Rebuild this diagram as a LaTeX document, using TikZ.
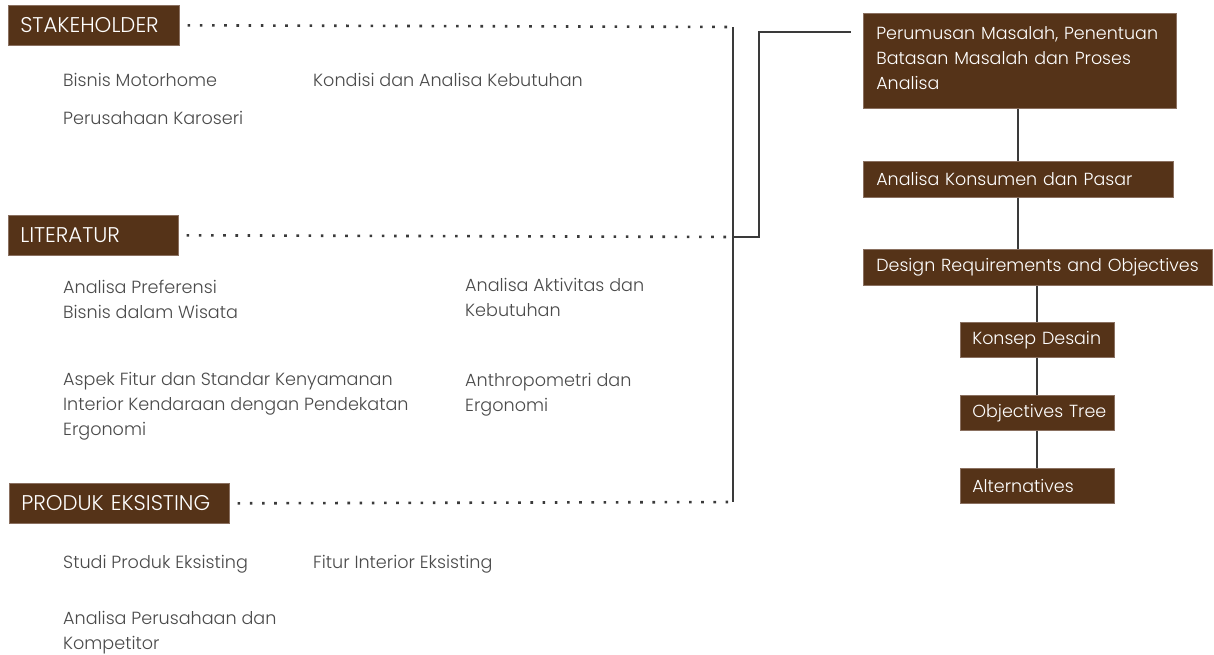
\documentclass[tikz,border=0pt]{standalone}
\usepackage{fontspec}
\setmainfont{Poppins Light}
\usetikzlibrary{calc}
\definecolor{boxbg}{HTML}{553318}
\definecolor{boxbrd}{HTML}{8A7060}
\definecolor{txt}{HTML}{4A4A4A}
\definecolor{ln}{HTML}{3A3A3A}
\tikzset{
  box/.style={draw=boxbrd, line width=0.6pt, fill=boxbg, text=white, anchor=north west,
    inner xsep=13pt, inner ysep=0pt, align=left, font=\fontsize{17.5}{25}\selectfont},
  capbox/.style={box, inner xsep=12pt, font=\fontsize{21.3}{25}\selectfont},
  smallbox/.style={box, inner xsep=12pt, minimum width=154pt, minimum height=35pt, text width=130pt},
  lbl/.style={anchor=north west, inner sep=0pt, text=txt, align=left,
    font=\fontsize{17.6}{25}\selectfont},
  dots/.style={ln, line width=2.6pt, dash pattern=on 2.6pt off 9.6pt},
  solid/.style={ln, line width=1.8pt},
}
\begin{document}
\begin{tikzpicture}[x=1pt,y=-1pt]
\useasboundingbox (0,0) rectangle (1214,654);
% left boxes
\node[capbox, minimum width=171pt, text width=147pt, minimum height=40pt] (stake) at (8,5) {\mbox{STAKEHOLDER}};
\node[capbox, minimum width=170pt, text width=146pt, minimum height=40pt] (lit) at (8,215) {\mbox{LITERATUR}};
\node[capbox, minimum width=220pt, text width=196pt, minimum height=40pt] (prod) at (9,483) {\mbox{PRODUK EKSISTING}};
% texts
\node[lbl] (t1) at (63,73) {Bisnis Motorhome};
\node[lbl] (t2) at (63,111) {Perusahaan Karoseri};
\node[lbl] (t3) at (313,73) {Kondisi dan Analisa Kebutuhan};
\node[lbl] (t4) at (63,280) {Analisa Preferensi\\Bisnis dalam Wisata};
\node[lbl] (t5) at (465,278) {Analisa Aktivitas dan\\Kebutuhan};
\node[lbl] (t6) at (63,372) {Aspek Fitur dan Standar Kenyamanan\\Interior Kendaraan dengan Pendekatan\\Ergonomi};
\node[lbl] (t7) at (465,373) {Anthropometri dan\\Ergonomi};
\node[lbl] (t8) at (63,555) {Studi Produk Eksisting};
\node[lbl] (t9) at (313,555) {Fitur Interior Eksisting};
\node[lbl] (t10) at (63,611) {Analisa Perusahaan dan\\Kompetitor};
% right column
\node[box, minimum width=313pt, minimum height=95pt, text width=287pt, text depth=56pt] (top) at (863,13) {Perumusan Masalah, Penentuan\\Batasan Masalah dan Proses\\Analisa};
\node[box, minimum width=310pt, minimum height=36pt, text width=284pt] (kons) at (863,161) {Analisa Konsumen dan Pasar};
\node[box, minimum width=349pt, minimum height=36pt, text width=323pt] (dro) at (863,249) {\mbox{Design Requirements and Objectives}};
\node[smallbox] (kd) at (960,322) {\mbox{Konsep Desain}};
\node[smallbox] (ot) at (960,395) {\mbox{Objectives Tree}};
\node[smallbox] (alt) at (960,468) {\mbox{Alternatives}};
% coordinates
\coordinate (vtop) at (733,27);
\coordinate (vlit) at (733,237);
\coordinate (vbot) at (733,502);
\coordinate (jlow) at (759,237);
\coordinate (jup) at (759,32);
\coordinate (jend) at (851,32);
% dotted lines
\draw[dots] ($(stake.east)+(8,0)$) -- (vtop);
\draw[dots] ($(lit.east)+(8,0)$) -- (vlit);
\draw[dots] ($(prod.east)+(8,0)$) -- (vbot);
% solid lines
\draw[solid] (vtop) -- (vbot);
\draw[solid] (vlit) -- (jlow) -- (jup) -- (jend);
\draw[solid] (top.south -| 1018,0) -- (kons.north -| 1018,0);
\draw[solid] (kons.south -| 1018,0) -- (dro.north -| 1018,0);
\draw[solid] (dro.south -| kd.north) -- (kd.north);
\draw[solid] (kd.south) -- (ot.north);
\draw[solid] (ot.south) -- (alt.north);
\end{tikzpicture}
\end{document}
